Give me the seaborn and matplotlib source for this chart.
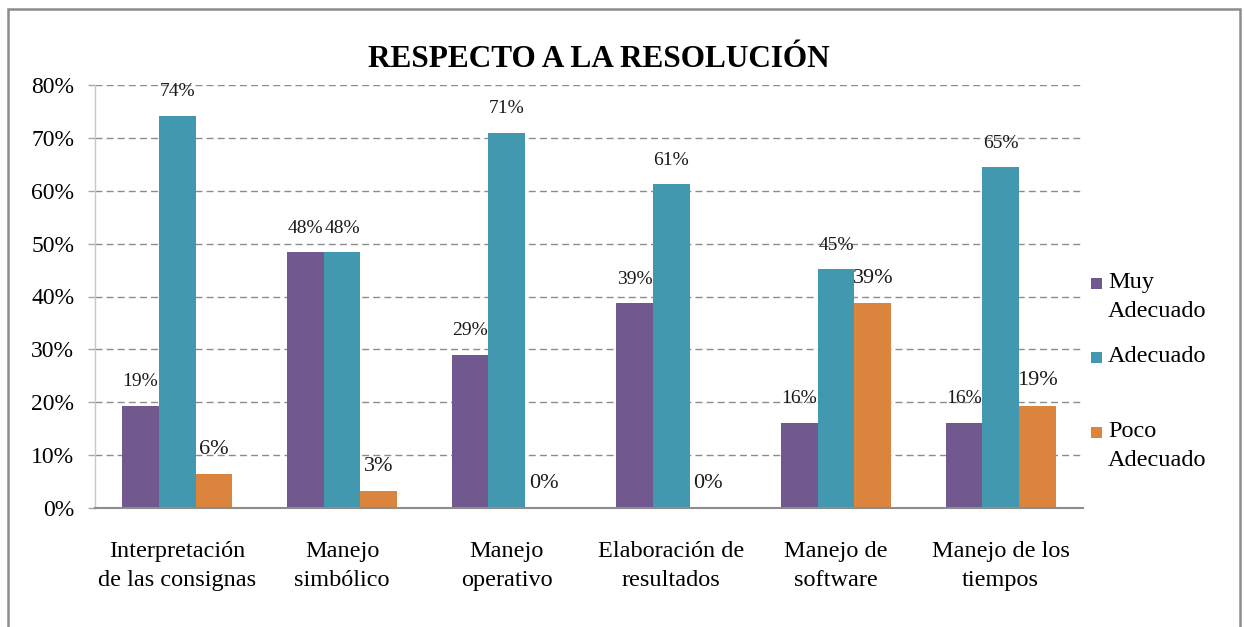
import pandas as pd
import matplotlib.pyplot as plt
import seaborn as sns
from matplotlib.patches import Rectangle
from matplotlib.ticker import PercentFormatter

# Datos (porcentajes)
aspectos = ['Interpretación\nde las consignas', 'Manejo\nsimbólico', 'Manejo\noperativo',
            'Elaboración de\nresultados', 'Manejo de\nsoftware', 'Manejo de los\ntiempos']
niveles = ['Muy Adecuado', 'Adecuado', 'Poco Adecuado']
etiquetas_leyenda = ['Muy\nAdecuado', 'Adecuado', 'Poco\nAdecuado']
muy_adecuado = [19.35, 48.39, 29.03, 38.71, 16.13, 16.13]
adecuado = [74.19, 48.39, 70.97, 61.29, 45.16, 64.52]
poco_adecuado = [6.45, 3.23, 0.0, 0.0, 38.71, 19.35]
colores = ['#71588F', '#4198AF', '#DB843D']

# Tabla en formato largo para seaborn
df = pd.DataFrame({
    'aspecto': aspectos * 3,
    'nivel': [n for n in niveles for _ in aspectos],
    'valor': muy_adecuado + adecuado + poco_adecuado,
})

sns.set_theme(style='white')
plt.rcParams['font.family'] = ['Liberation Serif', 'DejaVu Serif']
plt.rcParams['text.color'] = 'black'

W, H = 1245, 627
fig = plt.figure(figsize=(W / 100, H / 100), dpi=100)
ax = fig.add_axes([95 / W, 1 - 508 / H, 988 / W, 423 / H])

sns.barplot(data=df, x='aspecto', y='valor', hue='nivel', hue_order=niveles,
            order=aspectos, palette=colores, saturation=1, width=0.67, gap=0,
            errorbar=None, legend=False, linewidth=0, ax=ax)

# Etiquetas de datos
tamanos = [14, 14, 16]
series = [muy_adecuado, adecuado, poco_adecuado]
for cont, vals, t in zip(ax.containers, series, tamanos):
    ax.bar_label(cont, labels=[f'{v:.0f}%' for v in vals], padding=11,
                 fontsize=t, color='#1a1a1a')

ax.set_xlim(-0.5, 5.5)
ax.set_ylim(0, 80)
ax.set_yticks(range(0, 81, 10))
ax.yaxis.set_major_formatter(PercentFormatter(xmax=100, decimals=0))
ax.set_xticks(range(len(aspectos)))
ax.set_xticklabels(aspectos, fontsize=17.5, linespacing=1.5)
ax.set_xticks([i - 0.5 for i in range(len(aspectos) + 1)], minor=True)
ax.set_xlabel('')
ax.set_ylabel('')

ax.tick_params(axis='x', which='major', length=0, pad=24, labelcolor='black')
ax.tick_params(axis='x', which='minor', length=5, width=1.2, color='#8C8C8C', direction='out')
ax.tick_params(axis='y', length=5, width=1, color='#A6A6A6', pad=10, labelsize=17,
               left=True, labelcolor='black')

ax.yaxis.grid(True, linestyle=(0, (5, 3)), color='#8C8C8C', linewidth=1)
ax.xaxis.grid(False)
ax.set_axisbelow(True)

for s in ['top', 'right']:
    ax.spines[s].set_visible(False)
ax.spines['left'].set_color('#C8C8C8')
ax.spines['left'].set_linewidth(1)
ax.spines['bottom'].set_color('#8C8C8C')
ax.spines['bottom'].set_linewidth(1.5)

ax.set_title('RESPECTO A LA RESOLUCIÓN', fontsize=22.5, fontweight='bold', x=0.51, pad=13,
             color='black')

# Leyenda al estilo Excel
centros = [297, 357, 446]
primeras = [283, 357, 432]
for lab, col, yc, y1 in zip(etiquetas_leyenda, colores, centros, primeras):
    fig.patches.append(Rectangle((1091 / W, 1 - (y1 + 6) / H), 11 / W, 11 / H,
                                 transform=fig.transFigure, facecolor=col,
                                 edgecolor='none'))
    fig.text(1108 / W, 1 - yc / H, lab, fontsize=17.5, va='center', ha='left',
             linespacing=1.5, color='black')

# Marco del grafico
fig.patches.append(Rectangle((8 / W, -0.05), 1232 / W, 1.05 - 9 / H,
                             transform=fig.transFigure, fill=False,
                             edgecolor='#8C8C8C', linewidth=1.8))

fig.savefig('out.png', dpi=100)
